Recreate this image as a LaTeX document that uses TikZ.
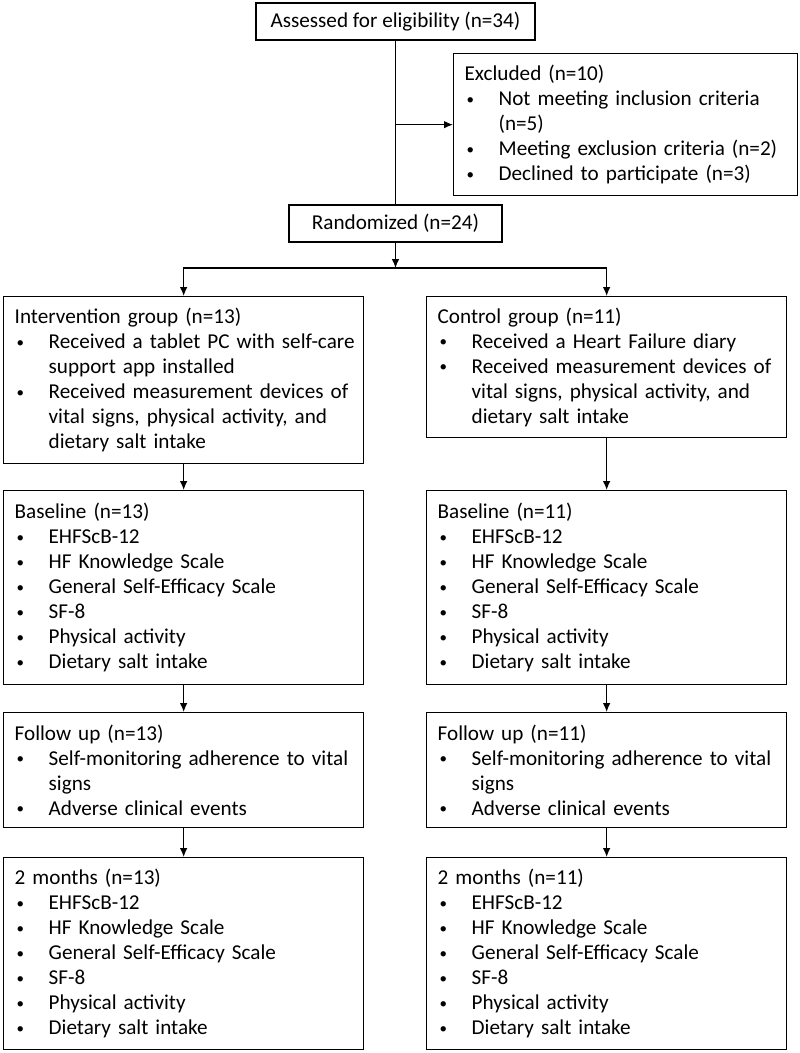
\documentclass[tikz,border=0pt]{standalone}
\usepackage{fontspec}
\setmainfont{Carlito}
\usetikzlibrary{arrows.meta}

\newcommand{\itm}{\hspace*{1.2pt}\makebox[19.2pt][l]{\raisebox{0.9pt}{\fontsize{9}{9}\selectfont\textbullet}}}
\newcommand{\ind}{\hspace*{20.4pt}}

\tikzset{
	box/.style={draw, line width=0.8pt, inner xsep=6.6pt, inner ysep=3pt, align=left, anchor=north west, font=\fontsize{12.7}{15}\selectfont},
	colbox/.style={box, text width=202.8pt},
	titlebox/.style={draw, line width=0.8pt, inner sep=2pt, align=center, font=\fontsize{12.7}{15}\selectfont},
	arr/.style={-{Latex[length=5.4pt,width=4.6pt]}, line width=0.8pt}
}

\begin{document}
\begin{tikzpicture}[x=0.6pt, y=0.6pt]
	\useasboundingbox (0,0) rectangle (800,-1053);
	
	%felső rész
	\node[titlebox, minimum width=167.4pt, minimum height=22.2pt] (assess) at (395.5,-21.5) {Assessed for eligibility (n=34)};
	\node[titlebox, minimum width=127.8pt, minimum height=22.2pt] (rand) at (395.5,-223.5) {Randomized (n=24)};
	\node[box, text width=193.2pt, minimum height=85.2pt] (excl) at (453,-53) {Excluded (n=10)\\
		\itm \mbox{Not meeting inclusion criteria}\\
		\ind (n=5)\\
		\itm \mbox{Meeting exclusion criteria (n=2)}\\
		\itm \mbox{Declined to participate (n=3)}};
	
	%csoportok
	\node[colbox, minimum height=100.2pt] (intv) at (3,-296) {Intervention group (n=13)\\
		\itm \mbox{Received a tablet PC with self-care}\\
		\ind support app installed\\
		\itm \mbox{Received measurement devices of}\\
		\ind \mbox{vital signs, physical activity, and}\\
		\ind dietary salt intake};
	\node[colbox, minimum height=84.6pt] (ctrl) at (426,-296) {Control group (n=11)\\
		\itm \mbox{Received a Heart Failure diary}\\
		\itm \mbox{Received measurement devices of}\\
		\ind \mbox{vital signs, physical activity, and}\\
		\ind dietary salt intake};
	
	%baseline
	\node[colbox, minimum height=116.4pt] (base1) at (3,-490) {Baseline (n=13)\\
		\itm EHFScB-12\\
		\itm HF Knowledge Scale\\
		\itm General Self-Efficacy Scale\\
		\itm SF-8\\
		\itm Physical activity\\
		\itm Dietary salt intake};
	\node[colbox, minimum height=116.4pt] (base2) at (426,-490) {Baseline (n=11)\\
		\itm EHFScB-12\\
		\itm HF Knowledge Scale\\
		\itm General Self-Efficacy Scale\\
		\itm SF-8\\
		\itm Physical activity\\
		\itm Dietary salt intake};
	
	%follow up
	\node[colbox, minimum height=69pt] (fu1) at (3,-712) {Follow up (n=13)\\
		\itm \mbox{Self-monitoring adherence to vital}\\
		\ind signs\\
		\itm Adverse clinical events};
	\node[colbox, minimum height=69pt] (fu2) at (426,-712) {Follow up (n=11)\\
		\itm \mbox{Self-monitoring adherence to vital}\\
		\ind signs\\
		\itm Adverse clinical events};
	
	%2 hónap
	\node[colbox, minimum height=115.2pt] (mon1) at (3,-857) {2 months (n=13)\\
		\itm EHFScB-12\\
		\itm HF Knowledge Scale\\
		\itm General Self-Efficacy Scale\\
		\itm SF-8\\
		\itm Physical activity\\
		\itm Dietary salt intake};
	\node[colbox, minimum height=115.2pt] (mon2) at (426,-857) {2 months (n=11)\\
		\itm EHFScB-12\\
		\itm HF Knowledge Scale\\
		\itm General Self-Efficacy Scale\\
		\itm SF-8\\
		\itm Physical activity\\
		\itm Dietary salt intake};
	
	%nyilak
	\coordinate (split) at (395.5,-268);
	\draw[line width=0.8pt] (assess.south) -- (rand.north);
	\draw[arr] (assess.south |- excl.west) -- (excl.west);
	\draw[arr] (rand.south) -- (split);
	\draw[arr] (split) -| (intv.north);
	\draw[arr] (split) -| (ctrl.north);
	
	\draw[arr] (intv.south) -- (base1.north);
	\draw[arr] (ctrl.south) -- (base2.north);
	\draw[arr] (base1.south) -- (fu1.north);
	\draw[arr] (base2.south) -- (fu2.north);
	\draw[arr] (fu1.south) -- (mon1.north);
	\draw[arr] (fu2.south) -- (mon2.north);
	
\end{tikzpicture}
\end{document}
